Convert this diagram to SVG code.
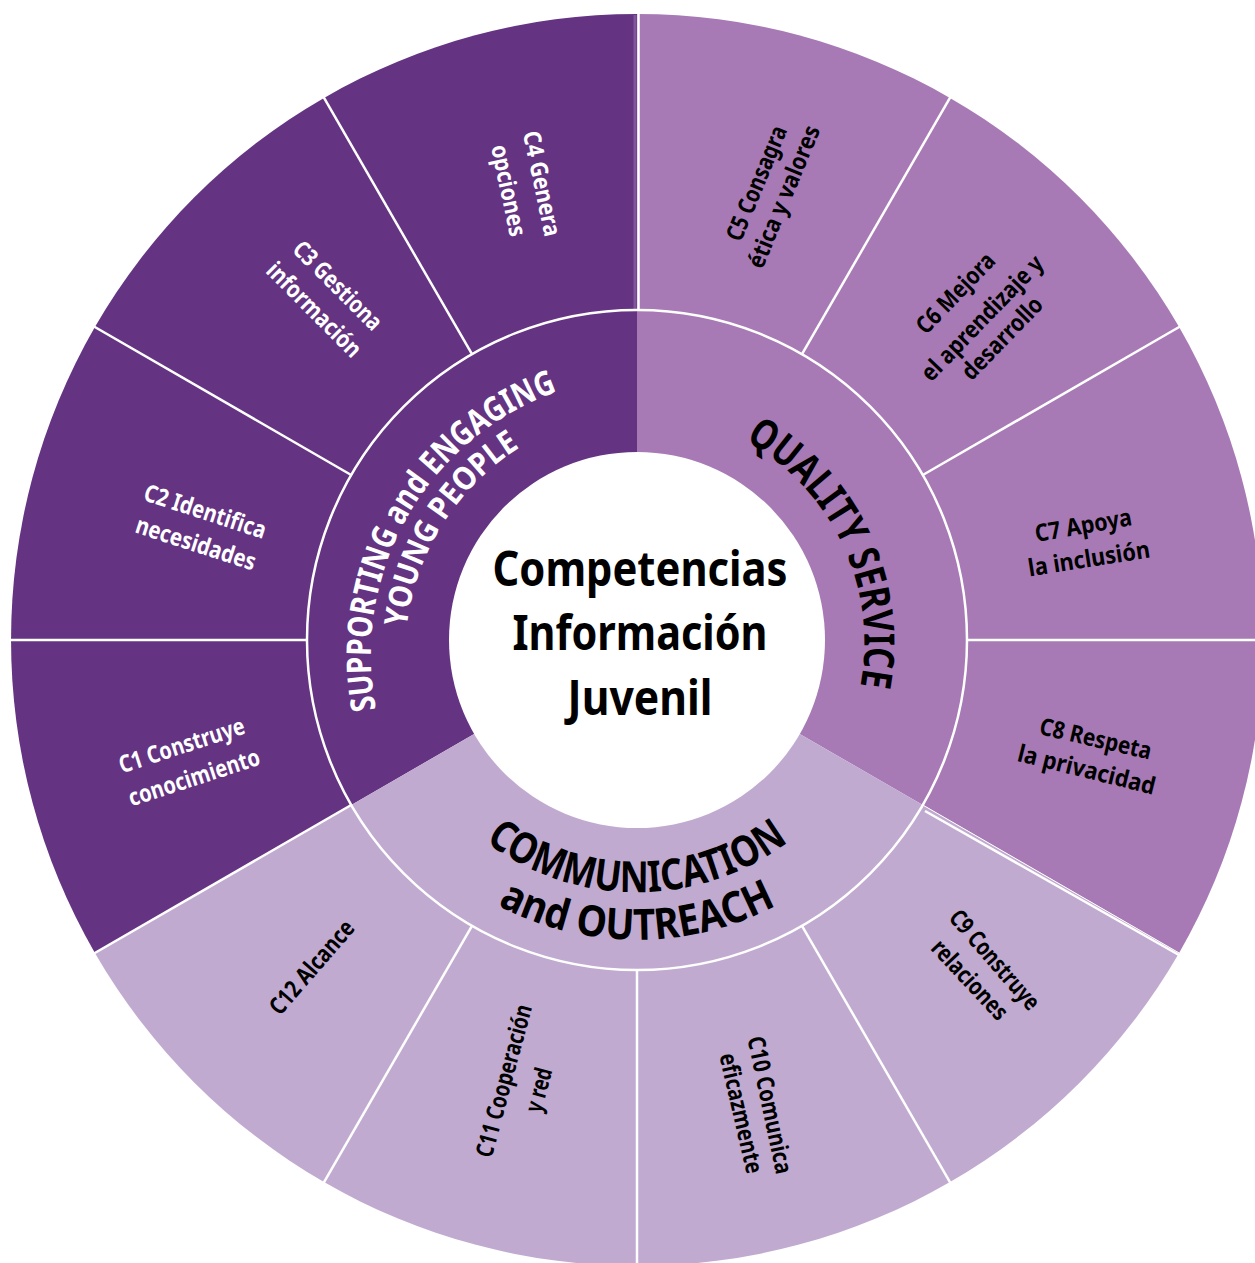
<svg xmlns="http://www.w3.org/2000/svg" width="1255" height="1263" viewBox="0 0 1255 1263">
<style>
text{font-family:"Noto Sans","Open Sans","DejaVu Sans",sans-serif;font-weight:700;font-stretch:condensed;text-anchor:middle}
.lbl{font-size:24px}
.w{fill:#fff}
.k{fill:#000}
.sep{stroke:#fff;stroke-width:2.5;fill:none}
</style>
<defs>
<path id="p1" d="M471.8,869.7 A279,279 0 0 1 744.1,392.3"/>
<path id="p2" d="M485.4,836.5 A245,245 0 0 1 742.6,428.2"/>
<path id="p3" d="M578.1,418.6 A231,231 0 0 1 770.4,828.9"/>
<path id="p4" d="M388.8,683.8 A252,252 0 0 0 885.2,683.8"/>
<path id="p5" d="M341.6,692.1 A300,300 0 0 0 932.4,692.1"/>
</defs>
<rect width="1255" height="1263" fill="#fff"/>
<g id="sectors">
<path id="sector-supporting" d="M637,640 L94.9,953 A626,626 0 0 1 637,14 Z" fill="#643382"/>
<path id="sector-quality" d="M637,640 L637,14 A626,626 0 0 1 1179.1,953 Z" fill="#a77ab5"/>
<path id="sector-communication" d="M637,640 L1179.1,953 A626,626 0 0 1 94.9,953 Z" fill="#c1aad0"/>
<line x1="635" y1="15" x2="635" y2="310" stroke="#80569a" stroke-width="3"/>
</g>
<g id="connectors" class="sep">
<circle cx="637" cy="640" r="330"/>
<line x1="967" y1="640" x2="1277" y2="640"/>
<line x1="922.8" y1="805" x2="1191.3" y2="960" stroke-width="1"/>
<line x1="925" y1="811" x2="1191.3" y2="962"/>
<line x1="802" y1="925.8" x2="957" y2="1194.3"/>
<line x1="637" y1="970" x2="637" y2="1280"/>
<line x1="472" y1="925.8" x2="317" y2="1194.3"/>
<line x1="351.2" y1="805" x2="82.7" y2="960"/>
<line x1="307" y1="640" x2="-3" y2="640"/>
<line x1="351.2" y1="475" x2="82.7" y2="320"/>
<line x1="472" y1="354.2" x2="317" y2="85.7"/>
<line x1="638.5" y1="310" x2="638.5" y2="0"/>
<line x1="802" y1="354.2" x2="957" y2="85.7"/>
<line x1="922.8" y1="475" x2="1191.3" y2="320"/>
</g>
<g id="center">
<circle cx="637" cy="640" r="188" fill="#fff"/>
<text x="640" y="586" font-size="49" class="k" textLength="295" lengthAdjust="spacingAndGlyphs">Competencias</text>
<text x="640" y="650" font-size="49" class="k" textLength="255" lengthAdjust="spacingAndGlyphs">Información</text>
<text x="640" y="715" font-size="49" class="k" textLength="145" lengthAdjust="spacingAndGlyphs">Juvenil</text>
</g>
<g id="ring-supporting">
<text font-size="34" class="w"><textPath href="#p1" startOffset="50%" textLength="399" lengthAdjust="spacingAndGlyphs">SUPPORTING and ENGAGING</textPath></text>
<text font-size="32" class="w"><textPath href="#p2" startOffset="50%" textLength="220" lengthAdjust="spacingAndGlyphs">YOUNG PEOPLE</textPath></text>
</g>
<g id="ring-quality">
<text font-size="42" class="k"><textPath href="#p3" startOffset="50%" textLength="290" lengthAdjust="spacingAndGlyphs">QUALITY SERVICE</textPath></text>
</g>
<g id="ring-communication">
<text font-size="43" class="k"><textPath href="#p4" startOffset="50%" textLength="325" lengthAdjust="spacingAndGlyphs">COMMUNICATION</textPath></text>
<text font-size="43" class="k"><textPath href="#p5" startOffset="50%" textLength="290" lengthAdjust="spacingAndGlyphs">and OUTREACH</textPath></text>
</g>
<g id="c1">
<text class="lbl w" transform="translate(181.7,745.6) rotate(-18)" y="8" textLength="131" lengthAdjust="spacingAndGlyphs">C1 Construye</text>
<text class="lbl w" transform="translate(194.2,777.7) rotate(-18)" y="8" textLength="137" lengthAdjust="spacingAndGlyphs">conocimiento</text>
</g>
<g id="c2">
<text class="lbl w" transform="translate(205,511.7) rotate(18)" y="8" textLength="127" lengthAdjust="spacingAndGlyphs">C2 Identifica</text>
<text class="lbl w" transform="translate(195.8,543.8) rotate(18)" y="8" textLength="125" lengthAdjust="spacingAndGlyphs">necesidades</text>
</g>
<g id="c3">
<text class="lbl w" transform="translate(337.5,285.8) rotate(45)" y="8" textLength="115" lengthAdjust="spacingAndGlyphs">C3 Gestiona</text>
<text class="lbl w" transform="translate(314,309.8) rotate(45)" y="8" textLength="123" lengthAdjust="spacingAndGlyphs">información</text>
</g>
<g id="c4">
<text class="lbl w" transform="translate(541.7,183.7) rotate(78)" y="8" textLength="107" lengthAdjust="spacingAndGlyphs">C4 Genera</text>
<text class="lbl w" transform="translate(508.4,190.6) rotate(78)" y="8" textLength="93" lengthAdjust="spacingAndGlyphs">opciones</text>
</g>
<g id="c5">
<text class="lbl k" transform="translate(756.7,183.3) rotate(-67.5)" y="8" textLength="122" lengthAdjust="spacingAndGlyphs">C5 Consagra</text>
<text class="lbl k" transform="translate(784,196.7) rotate(-67.5)" y="8" textLength="152" lengthAdjust="spacingAndGlyphs">ética y valores</text>
</g>
<g id="c6">
<text class="lbl k" transform="translate(955.7,293.3) rotate(-46)" y="8" textLength="102" lengthAdjust="spacingAndGlyphs">C6 Mejora</text>
<text class="lbl k" transform="translate(982.3,318.3) rotate(-46)" y="8" textLength="164" lengthAdjust="spacingAndGlyphs">el aprendizaje y</text>
<text class="lbl k" transform="translate(1002.3,338.3) rotate(-46)" y="8" textLength="105" lengthAdjust="spacingAndGlyphs">desarrollo</text>
</g>
<g id="c7">
<text class="lbl k" transform="translate(1083.3,525.7) rotate(-10)" y="8" textLength="98" lengthAdjust="spacingAndGlyphs">C7 Apoya</text>
<text class="lbl k" transform="translate(1089,559) rotate(-9)" y="8" textLength="123" lengthAdjust="spacingAndGlyphs">la inclusión</text>
</g>
<g id="c8">
<text class="lbl k" transform="translate(1095.7,739) rotate(13)" y="8" textLength="114" lengthAdjust="spacingAndGlyphs">C8 Respeta</text>
<text class="lbl k" transform="translate(1086.7,770) rotate(14)" y="8" textLength="141" lengthAdjust="spacingAndGlyphs">la privacidad</text>
</g>
<g id="c9">
<text class="lbl k" transform="translate(994.5,960) rotate(49)" y="8" textLength="124" lengthAdjust="spacingAndGlyphs">C9 Construye</text>
<text class="lbl k" transform="translate(969.6,980) rotate(47)" y="8" textLength="100" lengthAdjust="spacingAndGlyphs">relaciones</text>
</g>
<g id="c10">
<text class="lbl k" transform="translate(769.6,1105) rotate(78)" y="8" textLength="140" lengthAdjust="spacingAndGlyphs">C10 Comunica</text>
<text class="lbl k" transform="translate(740.8,1113.3) rotate(77)" y="8" textLength="123" lengthAdjust="spacingAndGlyphs">eficazmente</text>
</g>
<g id="c11">
<text class="lbl k" transform="translate(504.1,1080.8) rotate(-75)" y="8" textLength="157" lengthAdjust="spacingAndGlyphs">C11 Cooperación</text>
<text class="lbl k" transform="translate(539,1090) rotate(-75)" y="8" textLength="45" lengthAdjust="spacingAndGlyphs">y red</text>
</g>
<g id="c12">
<text class="lbl k" transform="translate(311.9,967.5) rotate(-49)" y="8" textLength="116" lengthAdjust="spacingAndGlyphs">C12 Alcance</text>
</g>
</svg>
